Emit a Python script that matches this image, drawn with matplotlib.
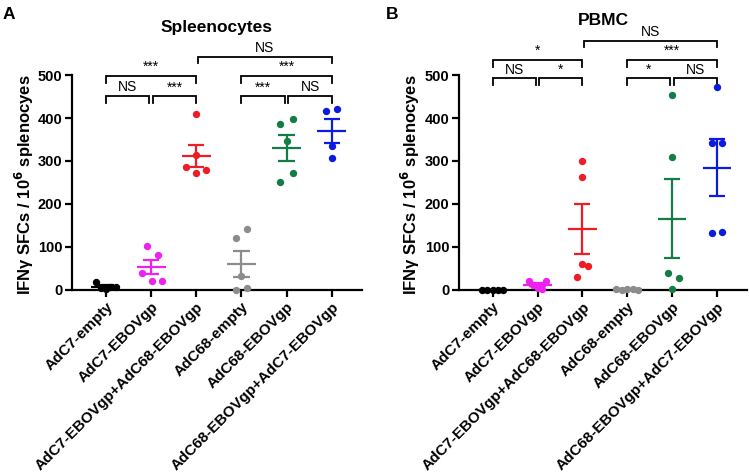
import numpy as np
import matplotlib
matplotlib.use('Agg')
import matplotlib.pyplot as plt

plt.rcParams['font.family'] = ['Liberation Sans', 'DejaVu Sans']

groups = ['AdC7-empty', 'AdC7-EBOVgp', 'AdC7-EBOVgp+AdC68-EBOVgp',
          'AdC68-empty', 'AdC68-EBOVgp', 'AdC68-EBOVgp+AdC7-EBOVgp']
colors = ['black', '#EE22EE', '#EE1C25', '#8C8C8C', '#137C47', '#0B1BE0']

# Spleenocytes values (SFCs / 10^6)
spl_c7_empty = [18, 5, 2, 6, 8]
spl_c7_ebov = [102, 81, 40, 20, 22]
spl_c7_c68 = [409, 314, 287, 279, 271]
spl_c68_empty = [143, 121, 33, 0, 5]
spl_c68_ebov = [398, 385, 347, 271, 250]
spl_c68_c7 = [416, 420, 335, 307]

# PBMC values
pbmc_c7_empty = [0, 0, 0, 0, 0]
pbmc_c7_ebov = [20, 12, 5, 3, 20]
pbmc_c7_c68 = [300, 263, 60, 56, 31]
pbmc_c68_empty = [2, 1, 3, 2, 1]
pbmc_c68_ebov = [453, 310, 39, 27, 2]
pbmc_c68_c7 = [471, 343, 341, 132, 134]

# horizontal scatter of the dots inside each column (category units)
spl_jitter = [[-0.22, -0.1, 0.0, 0.1, 0.22],
              [-0.1, 0.15, -0.2, 0.02, 0.24],
              [0.0, 0.0, -0.22, 0.22, 0.0],
              [0.12, -0.12, 0.0, -0.12, 0.12],
              [0.15, -0.15, 0.0, 0.15, -0.15],
              [-0.12, 0.12, 0.0, 0.0]]
pbmc_jitter = [[-0.24, -0.12, 0.0, 0.12, 0.24],
               [-0.2, -0.1, 0.0, 0.1, 0.2],
               [0.0, 0.0, 0.0, 0.12, -0.12],
               [-0.24, -0.12, 0.0, 0.12, 0.24],
               [0.0, 0.0, -0.1, 0.15, 0.0],
               [0.0, -0.1, 0.12, -0.1, 0.12]]

# significance brackets: (level, i, j, label)
spl_sig = [(451, 0, 1, 'NS'), (451, 1, 2, '***'), (451, 3, 4, '***'), (451, 4, 5, 'NS'),
           (498, 0, 2, '***'), (498, 3, 5, '***'), (543, 2, 5, 'NS')]
pbmc_sig = [(492, 0, 1, 'NS'), (492, 1, 2, '*'), (492, 3, 4, '*'), (492, 4, 5, 'NS'),
            (535, 0, 2, '*'), (535, 3, 5, '***'), (580, 2, 5, 'NS')]


def panel(ax, data, jitter, sig, title, title_y, letter, letter_x, ylab_x):
    for k, (vals, jit) in enumerate(zip(data, jitter)):
        vals = np.array(vals, dtype=float)
        c = colors[k]
        ax.scatter(k + np.array(jit), vals, s=28, color=c, zorder=3, clip_on=False,
                   linewidths=0)
        m = vals.mean()
        sem = vals.std(ddof=1) / np.sqrt(len(vals))
        ax.hlines(m, k - 0.32, k + 0.32, color=c, lw=1.6, zorder=4)
        ax.hlines([m - sem, m + sem], k - 0.18, k + 0.18, color=c, lw=1.6, zorder=4)
        ax.vlines(k, m - sem, m + sem, color=c, lw=1.6, zorder=4)

    for lvl, i, j, lab in sig:
        x0 = i + 0.04 if (i in (1, 4) or (i == 2 and j == 5)) else i
        x1 = j - 0.04 if (j in (1, 4)) else j
        ax.plot([x0, x0, x1, x1], [lvl - 16, lvl, lvl, lvl - 16], color='black',
                lw=1.3, clip_on=False, solid_joinstyle='miter')
        ax.text((x0 + x1) / 2, lvl + 4, lab, ha='center', va='bottom', fontsize=10)

    ax.set_xlim(-0.75, 5.67)
    ax.set_ylim(0, 500)
    ax.set_yticks([0, 100, 200, 300, 400, 500])
    ax.set_xticks(range(len(groups)))
    ax.set_xticklabels(groups, rotation=45, ha='right', rotation_mode='anchor',
                       fontsize=11, fontweight='bold')
    for lab in ax.get_yticklabels():
        lab.set_fontweight('bold')
        lab.set_fontsize(10.5)
    ax.spines['top'].set_visible(False)
    ax.spines['right'].set_visible(False)
    ax.spines['left'].set_linewidth(1.6)
    ax.spines['bottom'].set_linewidth(1.6)
    ax.tick_params(width=1.6, length=5, pad=2)
    ax.set_ylabel('IFN\u03b3 SFCs / 10$^{\\mathbf{6}}$ splenocyes', fontsize=12,
                  fontweight='bold')
    ax.yaxis.set_label_coords(ylab_x, 0.49)
    ax.text(0.5, title_y, title, transform=ax.transAxes, ha='center', va='center',
            fontsize=12.5, fontweight='bold')
    fig.text(letter_x, 0.97, letter, ha='left', va='center', fontsize=12.5,
             fontweight='bold')


fig = plt.figure(figsize=(7.5, 4.72), dpi=100)
axA = fig.add_axes([0.096, 0.3856, 0.3867, 0.4555])
axB = fig.add_axes([0.612, 0.3856, 0.384, 0.4555])

panel(axA, [spl_c7_empty, spl_c7_ebov, spl_c7_c68, spl_c68_empty, spl_c68_ebov, spl_c68_c7],
      spl_jitter, spl_sig, 'Spleenocytes', 1.0 + (75 - 27) / 215, 'A', 0.004, -0.124)
panel(axB, [pbmc_c7_empty, pbmc_c7_ebov, pbmc_c7_c68, pbmc_c68_empty, pbmc_c68_ebov, pbmc_c68_c7],
      pbmc_jitter, pbmc_sig, 'PBMC', 1.0 + (75 - 20) / 215, 'B', 0.515, -0.128)

fig.savefig('out.png', dpi=100)
